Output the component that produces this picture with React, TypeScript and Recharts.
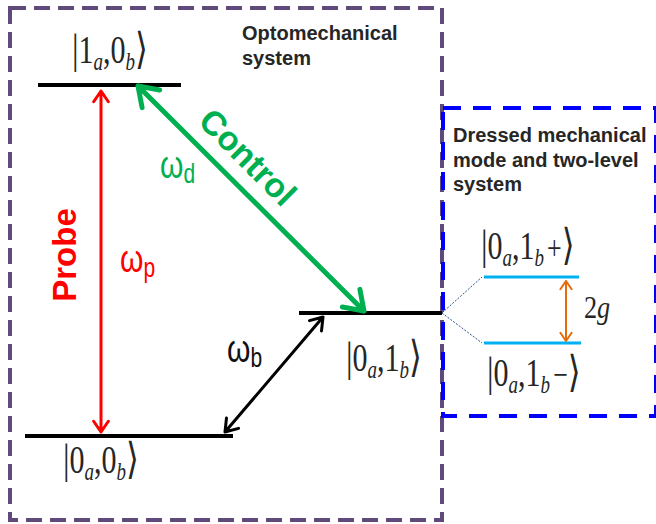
import { ComposedChart, XAxis, YAxis, Line, ReferenceLine, ReferenceArea, ReferenceDot } from 'recharts';

// diagram units = pixels of the 656x524 figure (y grows downward)
const levelIds = ['g', 'e', 'm', 'mPlus', 'mMinus'];
const levelStart = [38, 25, 299, 484, 484];
const levelEnd = [181, 233, 442, 579, 581];
const levelY = [85, 436, 313, 277, 343];

const arrowIds = ['probe', 'control', 'omegaB', 'split'];
const arrowFrom = [[101, 91], [138, 86], [225, 432], [566, 281]];
const arrowTo = [[101, 432], [364, 311], [323, 317], [566, 341]];

const ketIds = ['k10', 'k00', 'k01', 'k01p', 'k01m'];
const ketDigitA = ['1', '0', '0', '0', '0'];
const ketDigitB = ['0', '0', '1', '1', '1'];
const ketSign = ['', '', '', '+', '\u2212'];
const ketAt = [[72, 63], [63, 473], [346, 371], [481, 259], [487, 386]];

const omegaSubs = ['d', 'p', 'b'];
const omegaAt = [[160, 178], [120, 272], [227, 362]];

const boxTitles = [['Optomechanical', 'system'], ['Dressed mechanical', 'mode and two-level', 'system']];
const boxTitleAt = [[242, 40], [453, 142]];

const levelColor = (id: string) => (id.startsWith('m') && id.length > 1 ? '#00b0f0' : '#000');
const arrowStyle: Record<string, { c: string; w: number; h: number }> = {
  probe: { c: '#ff0000', w: 3, h: 13 },
  control: { c: '#00b050', w: 5, h: 22 },
  omegaB: { c: '#000000', w: 3, h: 14 },
  split: { c: '#e46c0a', w: 2, h: 10 },
};
const omegaColor = ['#00b050', '#ff0000', '#111111'];

const serif = "'Liberation Serif', 'DejaVu Serif', serif";
const sans = "'Liberation Sans', Arial, sans-serif";
const stretch = (x: number, y: number, sx = 1, sy = 1.3) => `translate(${x} ${y}) scale(${sx} ${sy})`;

const arrowShape = (c: string, w: number, h: number) => (p: any) => {
  const { x1, y1, x2, y2 } = p;
  const a = Math.atan2(y2 - y1, x2 - x1);
  const s = 0.6;
  const arm = (x: number, y: number, t: number) =>
    `M${x + h * Math.cos(t - s)},${y + h * Math.sin(t - s)}L${x},${y}L${x + h * Math.cos(t + s)},${y + h * Math.sin(t + s)}`;
  const d = `M${x1},${y1}L${x2},${y2}` + arm(x1, y1, a) + arm(x2, y2, a + Math.PI);
  return <path d={d} stroke={c} strokeWidth={w} fill="none" strokeLinecap="round" strokeLinejoin="round" />;
};

const ketShape = (i: number) => (p: any) => (
  <text x={0} y={0} transform={stretch(p.cx, p.cy, 1, 1.3)} fontFamily={serif} fill="#262626">
    <tspan fontSize={33}>|</tspan>
    <tspan fontSize={30}>{ketDigitA[i]}</tspan>
    <tspan fontSize={19} fontStyle="italic" dy={5}>a</tspan>
    <tspan fontSize={30} dy={-5}>,{ketDigitB[i]}</tspan>
    <tspan fontSize={19} fontStyle="italic" dy={5}>b</tspan>
    {ketSign[i] && <tspan fontSize={26} dy={-5} dx={3}>{ketSign[i]}</tspan>}
    <tspan fontSize={33} dy={ketSign[i] ? 0 : -5}>{'\u27e9'}</tspan>
  </text>
);

const omegaShape = (i: number) => (p: any) => (
  <text x={0} y={0} transform={stretch(p.cx, p.cy)} fontFamily={sans} fill={omegaColor[i]}>
    <tspan fontSize={30}>{'\u03c9'}</tspan>
    <tspan fontSize={21} dy={4}>{omegaSubs[i]}</tspan>
  </text>
);

const titleShape = (i: number) => (p: any) => (
  <text x={p.cx} y={p.cy} fontFamily={sans} fontWeight="bold" fontSize={20} fill="#262626">
    {boxTitles[i].map((t, j) => (
      <tspan key={j} x={p.cx} dy={j === 0 ? 0 : 24.5}>{t}</tspan>
    ))}
  </text>
);

export default function App() {
  return (
    <div style={{ position: 'absolute', left: 0, top: 0, width: 656, height: 524, background: '#fff' }}>
      <ComposedChart width={656} height={524} margin={{ top: 0, right: 0, bottom: 0, left: 0 }}>
        <XAxis type="number" dataKey="x" domain={[0, 656]} hide allowDataOverflow />
        <YAxis type="number" domain={[0, 524]} reversed hide allowDataOverflow />

        <ReferenceArea x1={10} x2={442} y1={8} y2={520} fill="none" fillOpacity={0}
          stroke="#604a7b" strokeWidth={4} strokeDasharray="16 8" />
        <ReferenceArea x1={443} x2={656} y1={108} y2={416} fill="none" fillOpacity={0}
          stroke="#0000ff" strokeWidth={4} strokeDasharray="18 12" />

        {levelIds.map((id, i) => (
          <Line key={id} data={[{ x: levelStart[i], y: levelY[i] }, { x: levelEnd[i], y: levelY[i] }]}
            dataKey="y" stroke={levelColor(id)} strokeWidth={id.length > 1 ? 3 : 4}
            dot={false} activeDot={false} isAnimationActive={false} />
        ))}

        {[3, 4].map((j) => (
          <ReferenceLine key={'c' + j}
            segment={[{ x: levelEnd[2], y: levelY[2] }, { x: levelStart[j] - 2, y: levelY[j] }]}
            stroke="#2e4f8f" strokeWidth={1} strokeDasharray="2 1.5" />
        ))}

        {arrowIds.map((id, i) => {
          const st = arrowStyle[id];
          return (
            <ReferenceLine key={id}
              segment={[{ x: arrowFrom[i][0], y: arrowFrom[i][1] }, { x: arrowTo[i][0], y: arrowTo[i][1] }]}
              shape={arrowShape(st.c, st.w, st.h)} />
          );
        })}

        {ketIds.map((id, i) => (
          <ReferenceDot key={id} x={ketAt[i][0]} y={ketAt[i][1]} r={0} shape={ketShape(i)} />
        ))}

        {omegaSubs.map((s, i) => (
          <ReferenceDot key={'w' + s} x={omegaAt[i][0]} y={omegaAt[i][1]} r={0} shape={omegaShape(i)} />
        ))}

        {boxTitles.map((t, i) => (
          <ReferenceDot key={'t' + i} x={boxTitleAt[i][0]} y={boxTitleAt[i][1]} r={0} shape={titleShape(i)} />
        ))}

        <ReferenceDot x={248} y={157} r={0} shape={(p: any) => (
          <text x={p.cx} y={p.cy} fontFamily={sans} fontWeight="bold" fontSize={34} fill="#00b050"
            textAnchor="middle" dominantBaseline="central" transform={`rotate(45 ${p.cx} ${p.cy})`}>Control</text>
        )} />
        <ReferenceDot x={64} y={255} r={0} shape={(p: any) => (
          <text x={p.cx} y={p.cy} fontFamily={sans} fontWeight="bold" fontSize={33} fill="#ff0000"
            textAnchor="middle" dominantBaseline="central" transform={`rotate(-90 ${p.cx} ${p.cy})`}>Probe</text>
        )} />
        <ReferenceDot x={584} y={318} r={0} shape={(p: any) => (
          <text x={0} y={0} transform={stretch(p.cx, p.cy, 1.05, 1.3)} fontFamily={serif} fontSize={25} fill="#262626">
            2<tspan fontStyle="italic">g</tspan>
          </text>
        )} />
      </ComposedChart>
    </div>
  );
}
